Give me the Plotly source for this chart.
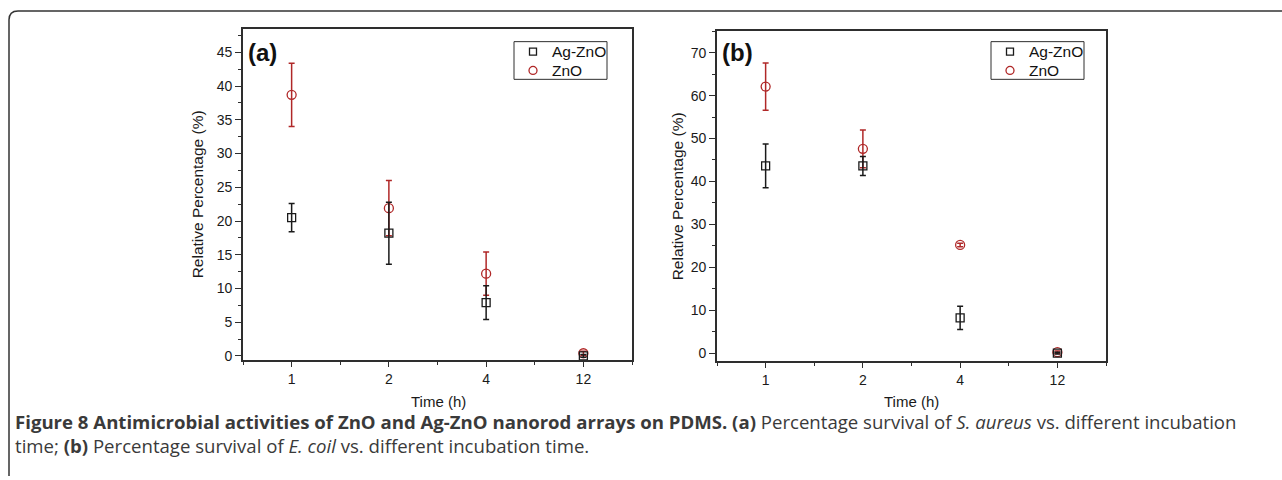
import plotly.graph_objects as go

# Incubation times (h), shown as evenly spaced categories
time_labels = ["1", "2", "4", "12"]

# (a) S. aureus survival
a_agzno = [20.5, 18.2, 7.9, 0.0]
a_agzno_err = [2.1, 4.6, 2.5, 0.2]
a_zno = [38.7, 21.9, 12.2, 0.4]
a_zno_err = [4.7, 4.1, 3.2, 0.3]

# (b) E. coli survival
b_agzno = [43.6, 43.6, 8.2, 0.0]
b_agzno_err = [5.1, 2.2, 2.7, 0.2]
b_zno = [62.1, 47.6, 25.2, 0.2]
b_zno_err = [5.5, 4.4, 0.4, 0.3]

series_names = ["Ag-ZnO", "ZnO"]

W, H = 1282, 480
BLACK = "#1a1a1a"
RED = "#b02828"
AXIS = "#2e2e2e"
FONT = "Liberation Sans, Arial, sans-serif"

pos = list(range(1, len(time_labels) + 1))


def px(x):
    return x / W


def py(y):
    return 1 - y / H


fig = go.Figure()


def add_series(y, err, name, color, symbol, size, xa, ya):
    fig.add_trace(go.Scatter(
        x=pos, y=y, mode="markers", name=name, showlegend=False,
        marker=dict(symbol=symbol, size=size, color=color,
                    line=dict(width=1.3, color=color)),
        error_y=dict(type="data", array=err, visible=True,
                     color=color, thickness=1.5, width=3),
        xaxis=xa, yaxis=ya,
    ))


# red series first so the black bars sit on top
add_series(a_zno, a_zno_err, series_names[1], RED, "circle-open", 9, "x", "y")
add_series(a_agzno, a_agzno_err, series_names[0], BLACK, "square-open", 8, "x", "y")
add_series(b_zno, b_zno_err, series_names[1], RED, "circle-open", 9, "x2", "y2")
add_series(b_agzno, b_agzno_err, series_names[0], BLACK, "square-open", 8, "x2", "y2")

common_x = dict(
    range=[0.5, 4.5], tickmode="array", tickvals=pos, ticktext=time_labels,
    showline=True, linecolor=AXIS, linewidth=1.6, mirror=True,
    ticks="outside", ticklen=5, tickwidth=1.3, tickcolor=AXIS,
    minor=dict(dtick=0.5, ticks="outside", ticklen=3, tickwidth=1.2, tickcolor=AXIS),
    showgrid=False, zeroline=False,
    tickfont=dict(family=FONT, size=14, color="#1a1a1a"),
)
common_y = dict(
    showline=True, linecolor=AXIS, linewidth=1.6, mirror=True,
    ticks="outside", ticklen=6, tickwidth=1.3, tickcolor=AXIS,
    showgrid=False, zeroline=False,
    tickfont=dict(family=FONT, size=14, color="#1a1a1a"),
)

fig.update_layout(
    width=W, height=H, margin=dict(l=0, r=0, t=0, b=0),
    paper_bgcolor="white", plot_bgcolor="white", showlegend=False,
    xaxis=dict(domain=[px(243), px(632)], anchor="y", **common_x),
    yaxis=dict(domain=[py(363), py(29)], anchor="x", range=[-0.6, 48.5],
               dtick=5, minor=dict(dtick=2.5, ticks="outside", ticklen=3.5,
                                   tickwidth=1.2, tickcolor=AXIS),
               **common_y),
    xaxis2=dict(domain=[px(717), px(1106)], anchor="y2", **common_x),
    yaxis2=dict(domain=[py(364), py(31.5)], anchor="x2", range=[-1.85, 75],
                dtick=10, minor=dict(dtick=5, ticks="outside", ticklen=3.5,
                                     tickwidth=1.2, tickcolor=AXIS),
                **common_y),
)

annotations = [
    dict(text="<b>(a)</b>", x=px(246), y=py(53), xanchor="left", yanchor="middle",
         font=dict(family=FONT, size=24, color="#111")),
    dict(text="<b>(b)</b>", x=px(720), y=py(53), xanchor="left", yanchor="middle",
         font=dict(family=FONT, size=24, color="#111")),
    dict(text="Relative Percentage (%)", x=px(197), y=py(196), textangle=-90,
         xanchor="center", yanchor="middle",
         font=dict(family=FONT, size=15.5, color="#1a1a1a")),
    dict(text="Relative Percentage (%)", x=px(677), y=py(198), textangle=-90,
         xanchor="center", yanchor="middle",
         font=dict(family=FONT, size=15.5, color="#1a1a1a")),
    dict(text="Time (h)", x=px(438), y=py(405), xanchor="center", yanchor="middle",
         font=dict(family=FONT, size=15, color="#1a1a1a")),
    dict(text="Time (h)", x=px(911), y=py(405), xanchor="center", yanchor="middle",
         font=dict(family=FONT, size=15, color="#1a1a1a")),
    dict(text=("<b>Figure 8 Antimicrobial activities of ZnO and Ag-ZnO nanorod arrays on PDMS. (a)</b>"
               " Percentage survival of <i>S. aureus</i> vs. different incubation<br>"
               "time; <b>(b)</b> Percentage survival of <i>E. coil</i> vs. different incubation time."),
         x=px(13), y=py(437), xanchor="left", yanchor="middle", align="left",
         font=dict(family="Open Sans, sans-serif", size=18.6, color="#3a3a3a")),
]

shapes = []

# legend boxes, one per panel
for left in (514, 991):
    shapes.append(dict(type="rect", x0=px(left), x1=px(left + 93),
                       y0=py(80), y1=py(42), line=dict(color=AXIS, width=1),
                       fillcolor="white"))
    mx = left + 19
    shapes.append(dict(type="rect", x0=px(mx - 3.5), x1=px(mx + 3.5),
                       y0=py(55.5), y1=py(48.5), line=dict(color=BLACK, width=1.3)))
    shapes.append(dict(type="circle", x0=px(mx - 4), x1=px(mx + 4),
                       y0=py(75), y1=py(67), line=dict(color=RED, width=1.3)))
    for row, name in enumerate(series_names):
        annotations.append(dict(text=name, x=px(left + 36), y=py(52 + 19 * row),
                                xanchor="left", yanchor="middle",
                                font=dict(family=FONT, size=15.5, color="#111")))

# outer frame with a rounded top-left corner
path = (f"M {px(9)},{py(480)} L {px(9)},{py(20)} "
        f"Q {px(9)},{py(11)} {px(18)},{py(11)} L {px(1282)},{py(11)}")
shapes.append(dict(type="path", path=path, line=dict(color="#333", width=1.5)))

for a in annotations:
    a.update(xref="paper", yref="paper", showarrow=False)
for s in shapes:
    s.update(xref="paper", yref="paper")
fig.update_layout(annotations=annotations, shapes=shapes)

fig.write_html("out.html")
